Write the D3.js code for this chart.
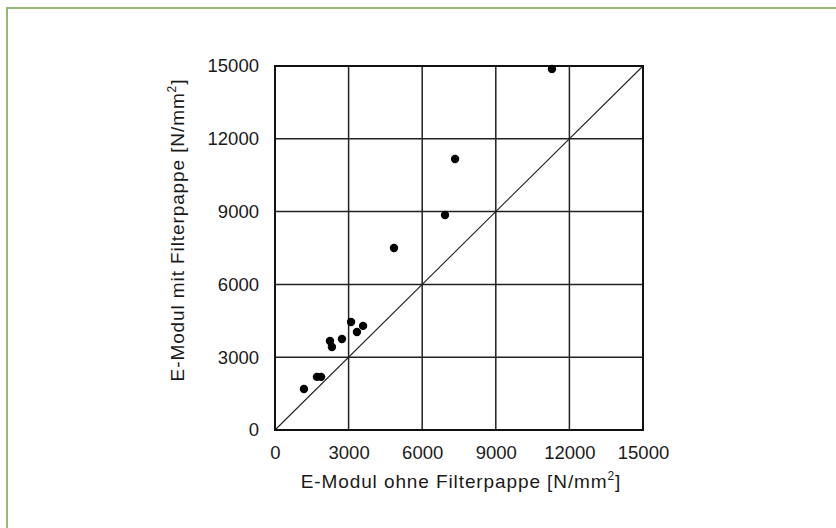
<!DOCTYPE html>
<html>
<head>
<meta charset="utf-8">
<script src="https://cdn.jsdelivr.net/npm/d3@7"></script>
<style>
  body { margin: 0; background: #fff; }
  svg { display: block; font-family: "Liberation Sans", Arial, sans-serif; }
</style>
</head>
<body>
<div id="vis"></div>
<script>
// values
const ohneFilter = [1180, 1710, 1880, 2240, 2320, 2730, 3100, 3340, 3590, 4850, 6930, 7340, 11290];
const mitFilter  = [1690, 2190, 2190, 3670, 3420, 3750, 4450, 4040, 4290, 7500, 8860, 11170, 14880];
const tickValues = [0, 3000, 6000, 9000, 12000, 15000];
const axisMax = 15000;

const W = 836, H = 528;
const margin = {top: 66, right: 193, bottom: 98, left: 275};
const width = W - margin.left - margin.right;
const height = H - margin.top - margin.bottom;

const root = d3.select('#vis')
    .append('svg')
    .attr('width', W)
    .attr('height', H);

// green frame (top + left only)
root.append('line')
    .attr('x1', 7).attr('y1', 8).attr('x2', W).attr('y2', 8)
    .attr('stroke', '#93ba78').attr('stroke-width', 2);
root.append('line')
    .attr('x1', 7).attr('y1', 7).attr('x2', 7).attr('y2', H)
    .attr('stroke', '#93ba78').attr('stroke-width', 2);

const svg = root.append('g')
    .attr('transform', `translate(${margin.left},${margin.top})`);

const xScale = d3.scaleLinear().domain([0, axisMax]).range([0, width]);
const yScale = d3.scaleLinear().domain([0, axisMax]).range([height, 0]);

// grid
svg.append('g')
    .selectAll('line')
    .data(tickValues.slice(1, -1))
    .join('line')
    .attr('x1', d => xScale(d)).attr('x2', d => xScale(d))
    .attr('y1', 0).attr('y2', height)
    .attr('stroke', '#222').attr('stroke-width', 1.5);

svg.append('g')
    .selectAll('line')
    .data(tickValues.slice(1, -1))
    .join('line')
    .attr('x1', 0).attr('x2', width)
    .attr('y1', d => yScale(d)).attr('y2', d => yScale(d))
    .attr('stroke', '#222').attr('stroke-width', 1.5);

// 1:1 line
svg.append('line')
    .attr('x1', xScale(0)).attr('y1', yScale(0))
    .attr('x2', xScale(axisMax)).attr('y2', yScale(axisMax))
    .attr('stroke', '#222').attr('stroke-width', 1.1);

// frame
svg.append('rect')
    .attr('width', width).attr('height', height)
    .attr('fill', 'none').attr('stroke', '#111').attr('stroke-width', 2);

// axes (labels only)
const xAxis = d3.axisBottom(xScale).tickValues(tickValues).tickSize(0).tickPadding(16).tickFormat(d3.format('d'));
svg.append('g')
    .attr('transform', `translate(0,${height})`)
    .call(xAxis)
    .call(g => g.select('.domain').remove())
    .selectAll('text')
    .attr('font-size', 18.5).attr('fill', '#1a1a1a').attr('font-family', null);

const yAxis = d3.axisLeft(yScale).tickValues(tickValues).tickSize(0).tickPadding(16).tickFormat(d3.format('d'));
svg.append('g')
    .call(yAxis)
    .call(g => g.select('.domain').remove())
    .selectAll('text')
    .attr('font-size', 18.5).attr('fill', '#1a1a1a').attr('font-family', null);

// points
svg.selectAll('.point')
    .data(ohneFilter.map((x, i) => ({x: x, y: mitFilter[i]})))
    .join('circle')
    .attr('class', 'point')
    .attr('cx', d => xScale(d.x))
    .attr('cy', d => yScale(d.y))
    .attr('r', 4.2)
    .attr('fill', '#000');

// axis titles
const xt = svg.append('text')
    .attr('x', width / 2 + 2)
    .attr('y', height + 58)
    .attr('text-anchor', 'middle')
    .attr('font-size', 19)
    .attr('letter-spacing', 0.9)
    .attr('fill', '#1a1a1a')
    .text('E-Modul ohne Filterpappe [N/mm');
xt.append('tspan').attr('dy', -8).attr('font-size', 12).text('2');
xt.append('tspan').attr('dy', 8).text(']');

const yt = svg.append('text')
    .attr('transform', 'rotate(-90)')
    .attr('x', -(230 - margin.top))
    .attr('y', -91)
    .attr('text-anchor', 'middle')
    .attr('font-size', 19)
    .attr('letter-spacing', 0.9)
    .attr('fill', '#1a1a1a')
    .text('E-Modul mit Filterpappe [N/mm');
yt.append('tspan').attr('dy', -8).attr('font-size', 12).text('2');
yt.append('tspan').attr('dy', 8).text(']');
</script>
</body>
</html>
